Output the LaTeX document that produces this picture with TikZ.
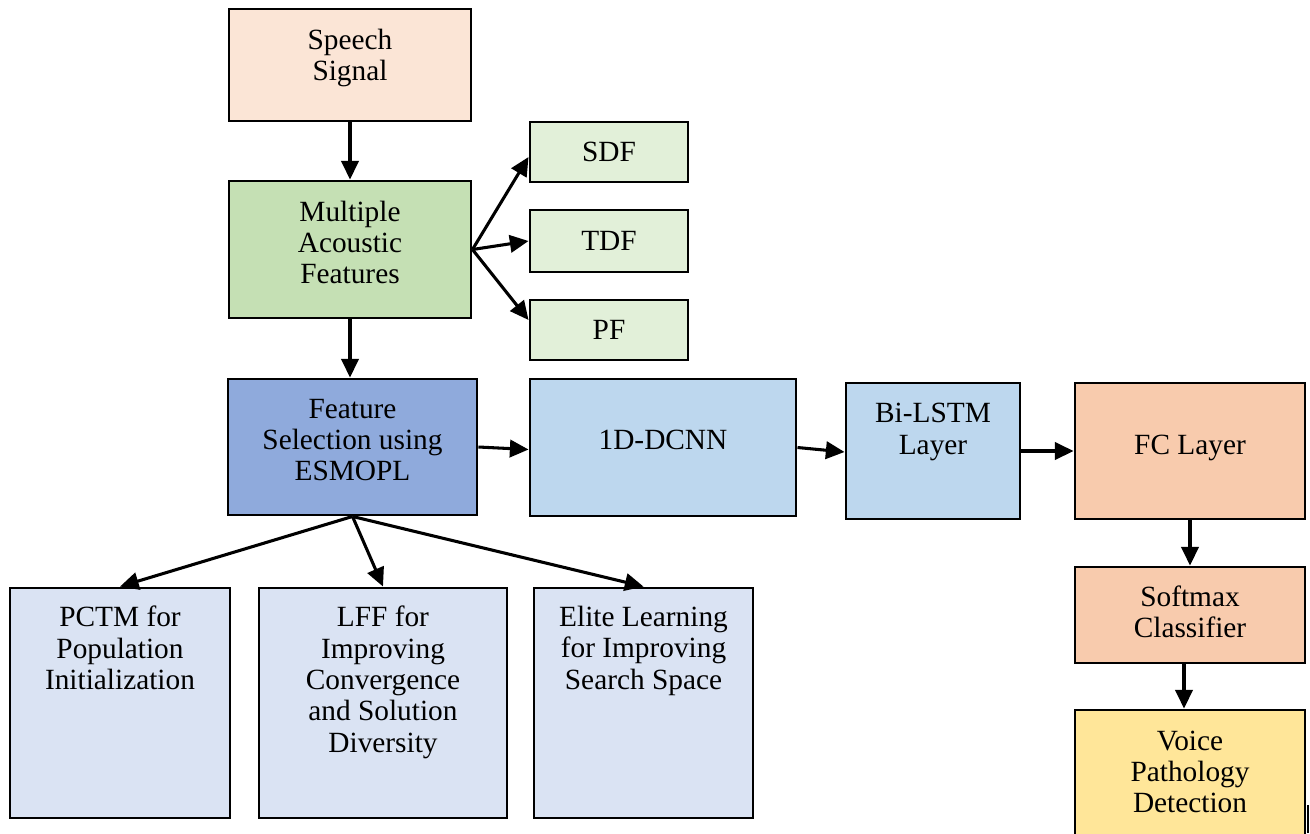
\documentclass[tikz,border=0pt]{standalone}
\usepackage{fontspec}
\setmainfont{Liberation Serif}
\usetikzlibrary{arrows.meta,calc}
\definecolor{cspeech}{HTML}{FBE5D6}
\definecolor{cmaf}{HTML}{C5E0B4}
\definecolor{cfeat}{HTML}{E2F0D9}
\definecolor{cfs}{HTML}{8FAADC}
\definecolor{cnet}{HTML}{BDD7EE}
\definecolor{cfc}{HTML}{F8CBAD}
\definecolor{cvoice}{HTML}{FFE699}
\definecolor{cbot}{HTML}{DAE3F3}
\tikzset{
  box/.style={draw=black,line width=2.2pt,align=center,inner sep=0pt,
    font=\fontsize{22}{23.5}\selectfont},
  sz/.style 2 args={minimum width=#1*0.75pt,minimum height=#2*0.75pt},
  txt/.style={align=center,inner sep=0pt,font=\fontsize{22}{23.5}\selectfont},
  arr/.style={line width=2.3pt,-{Triangle[length=14pt,width=13pt]}}
}
\begin{document}
\begin{tikzpicture}[x=0.75pt,y=-0.75pt]
\useasboundingbox (0,0) rectangle (1310,833);

\node[box,fill=cspeech,sz={242}{112}] (speech) at (350,65) {};
\node[box,fill=cmaf,sz={242}{137}] (maf) at (350,249.5) {};
\node[box,fill=cfeat,sz={158}{60}] (sdf) at (609,152) {SDF};
\node[box,fill=cfeat,sz={158}{62}] (tdf) at (609,241) {TDF};
\node[box,fill=cfeat,sz={158}{60}] (pf) at (609,330) {PF};
\node[box,fill=cfs,sz={249}{136}] (fs) at (352.5,447) {};
\node[box,fill=cnet,sz={266}{137}] (cnn) at (663,447.5) {};
\node[box,fill=cnet,sz={174}{136}] (lstm) at (933,451) {};
\node[box,fill=cfc,sz={230}{136}] (fc) at (1190,451) {};
\node[box,fill=cfc,sz={230}{96}] (sm) at (1190,615) {};
\node[box,fill=cvoice,sz={230}{128}] (voice) at (1190,774) {};
\node[box,fill=cbot,sz={220}{230}] (pctm) at (120,703) {};
\node[box,fill=cbot,sz={248}{230}] (lff) at (383,703) {};
\node[box,fill=cbot,sz={219}{230}] (elite) at (643.5,703) {};

\node[txt] (speecht) at (350,58) {Speech\\Signal};
\node[txt] (maft) at (350,242.5) {Multiple\\Acoustic\\Features};
\node[txt] (fst) at (352.5,440) {Feature\\Selection using\\ESMOPL};
\node[txt] (cnnt) at (663,440) {1D-DCNN};
\node[txt] (lstmt) at (933,432) {Bi-LSTM\\Layer};
\node[txt] (fct) at (1190,448) {FC Layer};
\node[txt] (smt) at (1190,612) {Softmax\\Classifier};
\node[txt] (voicet) at (1190,772) {Voice\\Pathology\\Detection};
\node[txt,anchor=north] (pctmt) at (120,606) {PCTM for\\Population\\Initialization};
\node[txt,anchor=north] (lfft) at (383,606) {LFF for\\Improving\\Convergence\\and Solution\\Diversity};
\node[txt,anchor=north] (elitet) at (643.5,606) {Elite Learning\\for Improving\\Search Space};

\draw[arr] (speech.south) -- (maf.north);
\draw[arr] (maf.east) -- ($(sdf.west)+(0,5)$);
\draw[arr] (maf.east) -- (tdf.west);
\draw[arr] (maf.east) -- ($(pf.west)+(0,-10)$);
\draw[arr] (maf.south) -- (maf.south |- fs.north);
\draw[arr] (fs.east) -- ($(cnn.west)+(0,2)$);
\draw[arr] (cnn.east) -- ($(lstm.west)+(0,1)$);
\draw[arr] (lstm.east) -- (fc.west);
\draw[arr] (fc.south) -- (sm.north);
\draw[arr] ($(sm.south)+(-6,0)$) -- ($(voice.north)+(-6,0)$);
\draw[arr] (fs.south) -- (pctm.north);
\draw[arr] (fs.south) -- (lff.north);
\draw[arr] (fs.south) -- (elite.north);

\coordinate (m1) at (1307.5,805);
\coordinate (m2) at (1307.5,833);
\draw[line width=1.5pt] (m1) -- (m2);
\end{tikzpicture}
\end{document}
